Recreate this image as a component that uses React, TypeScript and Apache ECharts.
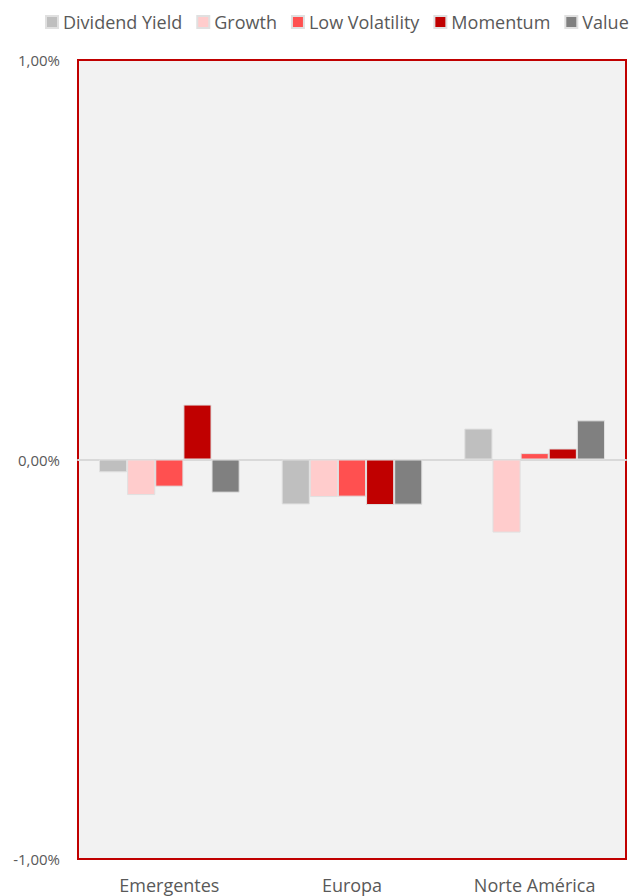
import React, { useEffect, useRef } from "react";
import * as echarts from "echarts";

const categories = ["Emergentes", "Europa", "Norte América"];
const seriesNames = ["Dividend Yield", "Growth", "Low Volatility", "Momentum", "Value"];
const dividendYield = [-0.032, -0.1125, 0.0775];
const growth = [-0.089, -0.094, -0.183];
const lowVolatility = [-0.068, -0.093, 0.016];
const momentum = [0.1375, -0.114, 0.0275];
const value = [-0.083, -0.113, 0.098];
const colors = ["#bfbfbf", "#ffcccc", "#ff5050", "#c00000", "#808080"];

export default function App() {
  const ref = useRef<HTMLDivElement>(null);
  useEffect(() => {
    if (!ref.current) return;
    const chart = echarts.init(ref.current, null, { renderer: "svg" });
    const data = [dividendYield, growth, lowVolatility, momentum, value];
    chart.setOption({
      animation: false,
      textStyle: { fontFamily: "Open Sans" },
      legend: {
        top: 11,
        left: 45,
        width: 700,
        padding: 0,
        itemWidth: 12,
        itemHeight: 12,
        itemGap: 14,
        icon: "rect",
        textStyle: { fontSize: 18, lineHeight: 22, color: "#595959", fontFamily: "Open Sans" },
        data: seriesNames,
      },
      grid: {
        left: 78,
        right: 14,
        top: 60,
        bottom: 37,
        show: true,
        backgroundColor: "#f2f2f2",
        borderColor: "#c00000",
        borderWidth: 2,
      },
      xAxis: {
        type: "category",
        data: categories,
        axisLine: { onZero: true, lineStyle: { color: "#d9d9d9", width: 2 } },
        axisTick: { show: false },
        axisLabel: {
          color: "#595959",
          fontSize: 18,
          lineHeight: 18,
          fontFamily: "Open Sans",
          margin: 17,
        },
        position: "bottom",
      },
      yAxis: {
        type: "value",
        min: -1,
        max: 1,
        interval: 1,
        axisLine: { show: false },
        axisTick: { show: false },
        splitLine: { show: false },
        axisLabel: {
          color: "#595959",
          fontSize: 15,
          fontFamily: "Open Sans",
          margin: 18,
          formatter: (v: number) => v.toFixed(2).replace(".", ",") + "%",
        },
      },
      series: seriesNames.map((name, i) => ({
        name,
        type: "bar",
        data: data[i],
        barGap: "0%",
        barCategoryGap: "23%",
        itemStyle: { color: colors[i], borderColor: "#e0e0e0", borderWidth: 1 },
      })),
    });
    return () => chart.dispose();
  }, []);
  return (
    <div
      ref={ref}
      style={{ position: "absolute", left: 0, top: 0, width: 640, height: 896 }}
    />
  );
}
